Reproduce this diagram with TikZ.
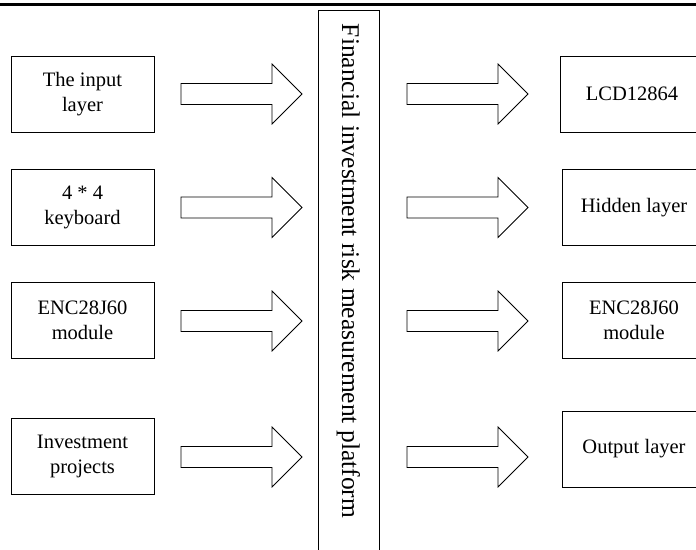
\documentclass[tikz,border=0pt]{standalone}
\usepackage{fontspec}
\setmainfont{Liberation Serif}
\begin{document}
\begin{tikzpicture}[x=1pt,y=-1pt,
    unitbox/.style={draw, line width=0.9pt, minimum width=143pt, minimum height=76pt,
      inner sep=0pt, align=center, font=\fontsize{20.5}{25}\selectfont},
    fatarrow/.style={draw, line width=0.8pt, line join=miter}]
    \useasboundingbox (0,0) rectangle (696,549);
    \draw[line width=3pt] (0,4.5) -- (696,4.5);
    % left column
    \node[unitbox] (inlayer)  at (82.5,94)    {The input\\layer};
    \node[unitbox] (keyboard) at (82.5,207)   {4 * 4\\keyboard};
    \node[unitbox] (encleft)  at (82.5,320.5) {ENC28J60\\module};
    \node[unitbox] (invest)   at (82.5,456.5) {Investment\\projects};
    % platform column, open at the bottom
    \draw[line width=0.9pt] (318,560) -- (318,10) -- (379,10) -- (379,560);
    \node[rotate=-90, font=\fontsize{25.5}{30}\selectfont] (platform) at (348.5,271)
      {Financial investment risk measurement platform};
    % right column, cut by the page edge
    \node[unitbox, minimum width=144pt] (lcd)      at (632,94)    {LCD12864};
    \node[unitbox, minimum width=144pt] (hidden)   at (634,207.5) {Hidden layer};
    \node[unitbox, minimum width=144pt] (encright) at (634,320.5) {ENC28J60\\module};
    \node[unitbox, minimum width=144pt] (outlayer) at (634,449)   {Output layer};
    % block arrows
    \foreach \y in {94,207.5,321,457} {
      \draw[fatarrow] (181,\y-10.5) -- (272,\y-10.5) -- (272,\y-30) -- (302,\y)
        -- (272,\y+30) -- (272,\y+10.5) -- (181,\y+10.5) -- cycle;
      \draw[fatarrow] (407,\y-10.5) -- (498,\y-10.5) -- (498,\y-30) -- (528,\y)
        -- (498,\y+30) -- (498,\y+10.5) -- (407,\y+10.5) -- cycle;
    }
\end{tikzpicture}
\end{document}
